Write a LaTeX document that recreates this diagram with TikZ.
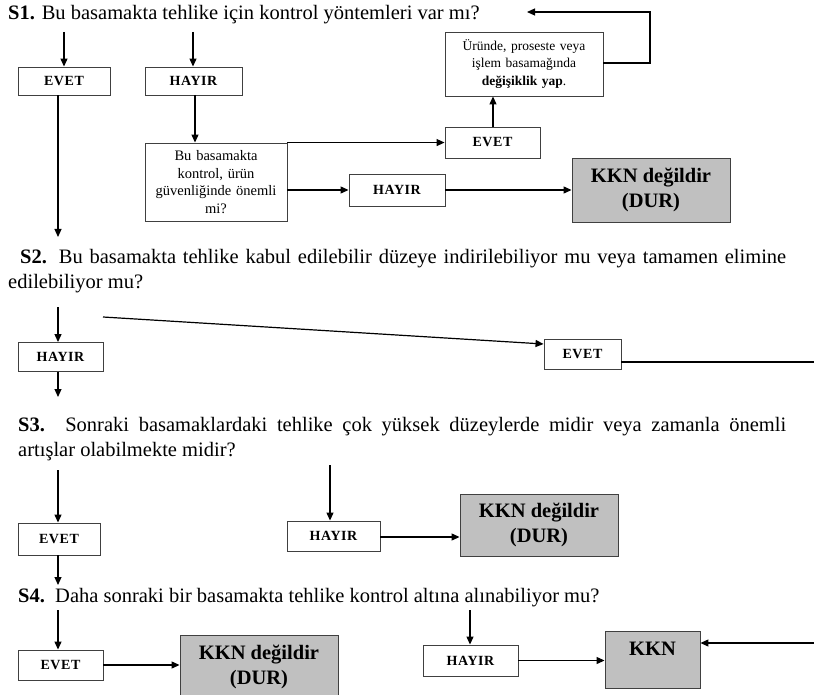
\documentclass[tikz,border=0pt]{standalone}
\usepackage{fontspec}
\setmainfont{Liberation Serif}
\newfontfamily\lblfont[LetterSpace=4]{Liberation Serif}
\usetikzlibrary{arrows.meta}
\definecolor{kkngray}{HTML}{C0C0C0}
\definecolor{boxline}{HTML}{404040}
\begin{document}
\begin{tikzpicture}[x=1pt,y=-1pt,
  lbl/.style={draw=boxline, line width=0.9pt, fill=white, inner sep=0pt,
    font=\lblfont\fontsize{14}{15}\selectfont\bfseries},
  qbox/.style={draw=boxline, line width=0.9pt, fill=white, inner sep=2pt, align=center,
    font=\fontsize{14.5}{17.5}\selectfont},
  kkn/.style={draw=boxline, line width=0.9pt, fill=kkngray, inner sep=0pt, align=center,
    font=\fontsize{20.5}{25}\selectfont\bfseries},
  ques/.style={inner sep=0pt, font=\fontsize{20.5}{25}\selectfont},
  arr/.style={-{Triangle[length=8pt,width=7pt]}, line width=1.2pt},
  ln/.style={line width=1.2pt}]
\useasboundingbox (0,0) rectangle (814,695);

% ---------- S1 ----------
\node[ques, anchor=west] (s1) at (8,15) {\textbf{S1.} Bu basamakta tehlike için kontrol yöntemleri var mı?};
\node[lbl, minimum width=92, minimum height=28] (e1) at (64,81) {EVET};
\node[lbl, minimum width=97, minimum height=28] (h1) at (193.5,81) {HAYIR};
\node[qbox, minimum width=142, minimum height=78, text width=136] (q) at (216,182)
  {Bu basamakta\\kontrol, ürün\\güvenliğinde önemli\\mi?};
\node[lbl, minimum width=95, minimum height=31] (e2) at (492.5,142.5) {EVET};
\node[qbox, minimum width=158, minimum height=64, text width=152, font=\fontsize{13.5}{17.5}\selectfont] (ch) at (524,64)
  {Üründe, proseste veya\\işlem basamağında\\\textbf{değişiklik yap}.};
\node[lbl, minimum width=96, minimum height=32] (h2) at (397,190) {HAYIR};
\node[kkn, minimum width=158, minimum height=64] (k1) at (651,190) {KKN değildir\\(DUR)};

\coordinate (a1) at (64,32);
\coordinate (a2) at (193,32);
\coordinate (d1) at (58,237);
\coordinate (r1) at (650,63);
\coordinate (r2) at (650,12);
\coordinate (r3) at (527,12);
\draw[arr] (a1) -- (a1 |- e1.north);
\draw[arr] (a2) -- (a2 |- h1.north);
\draw[arr] (d1 |- e1.south) -- (d1);
\draw[arr] (195,95) -- (q.north -| 195,0);
\draw[arr] (q.north east) -- (e2.west |- q.north east);
\draw[arr] (e2.north -| 493,0) -- (ch.south -| 493,0);
\draw[arr] (ch.east |- r1) -- (r1) -- (r2) -- (r3);
\draw[arr] (q.east |- h2.west) -- (h2.west);
\draw[arr] (h2.east) -- (k1.west);

% ---------- S2 ----------
\node[ques, anchor=north west, text width=778, align=justify] (s2) at (8,249)
  {\hspace*{12pt}\textbf{S2.} Bu basamakta tehlike kabul edilebilir düzeye indirilebiliyor mu veya tamamen elimine\linebreak edilebiliyor mu?};
\node[lbl, minimum width=85, minimum height=29] (h3) at (60.5,357) {HAYIR};
\node[lbl, minimum width=77, minimum height=30] (e3) at (582.5,354) {EVET};
\coordinate (a3) at (58,307);
\coordinate (l3) at (103,317);
\coordinate (d3) at (58,397);
\coordinate (r4) at (814,362);
\draw[arr] (a3) -- (a3 |- h3.north);
\draw[arr] (l3) -- (e3.west |- 0,344);
\draw[ln] (e3.east |- r4) -- (r4);
\draw[arr] (d3 |- h3.south) -- (d3);

% ---------- S3 ----------
\node[ques, anchor=north west, text width=768, align=justify] (s3) at (18,417)
  {\textbf{S3.} Sonraki basamaklardaki tehlike çok yüksek düzeylerde midir veya zamanla önemli\linebreak artışlar olabilmekte midir?};
\node[lbl, minimum width=82, minimum height=32] (e4) at (59,539) {EVET};
\node[lbl, minimum width=93, minimum height=30] (h4) at (333.5,536) {HAYIR};
\node[kkn, minimum width=158, minimum height=62] (k2) at (539,525) {KKN değildir\\(DUR)};
\coordinate (a4) at (58,470);
\coordinate (a5) at (330,465);
\coordinate (d4) at (58,585);
\draw[arr] (a4) -- (a4 |- e4.north);
\draw[arr] (a5) -- (a5 |- h4.north);
\draw[arr] (h4.east |- 0,537) -- (k2.west |- 0,537);
\draw[arr] (d4 |- e4.south) -- (d4);

% ---------- S4 ----------
\node[ques, anchor=west] (s4) at (18,598) {\textbf{S4.}\ \ Daha sonraki bir basamakta tehlike kontrol altına alınabiliyor mu?};
\node[lbl, minimum width=85, minimum height=30] (e5) at (60.5,665) {EVET};
\node[kkn, minimum width=158, minimum height=64] (k3) at (259,667) {KKN değildir\\(DUR)};
\node[lbl, minimum width=95, minimum height=31] (h5) at (470.5,660.5) {HAYIR};
\node[kkn, minimum width=95, minimum height=57] (k4) at (652.5,659.5) {};
\node[font=\fontsize{20.5}{25}\selectfont\bfseries, inner sep=0pt] (k4t) at (652.5,649) {KKN};
\coordinate (a6) at (58,610);
\coordinate (a7) at (470,610);
\coordinate (r5) at (814,643);
\draw[arr] (a6) -- (a6 |- e5.north);
\draw[arr] (e5.east |- 0,665) -- (k3.west |- 0,665);
\draw[arr] (a7) -- (a7 |- h5.north);
\draw[arr] (h5.east) -- (k4.west |- h5.east);
\draw[arr] (r5) -- (k4.east |- r5);
\end{tikzpicture}
\end{document}
